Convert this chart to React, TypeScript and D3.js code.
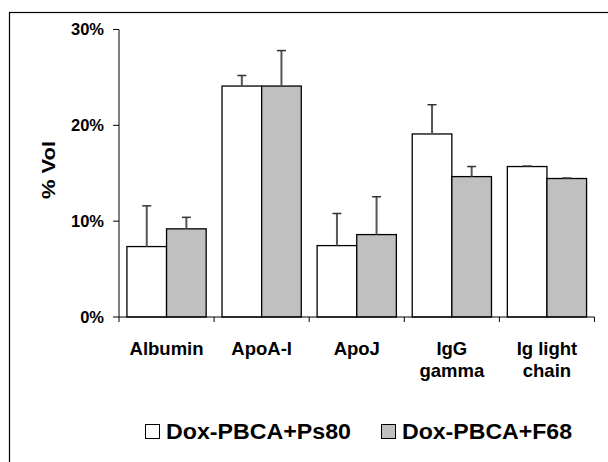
import React from "react";
import * as d3 from "d3";

const categories = ["Albumin", "ApoA-I", "ApoJ", "IgG gamma", "Ig light chain"];
const categoryLines = [["Albumin"], ["ApoA-I"], ["ApoJ"], ["IgG", "gamma"], ["Ig light", "chain"]];
const seriesNames = ["Dox-PBCA+Ps80", "Dox-PBCA+F68"];
const ps80Values = [7.35, 24.1, 7.45, 19.1, 15.7];
const ps80Errors = [4.25, 1.1, 3.35, 3.05, 0.05];
const f68Values = [9.2, 24.1, 8.6, 14.65, 14.45];
const f68Errors = [1.2, 3.7, 3.95, 1.05, 0.05];
const yTicks = [0, 10, 20, 30];

const W = 608;
const H = 462;
const FONT = "Arial, 'Liberation Sans', Helvetica, sans-serif";

export default function App() {
  const x0 = d3.scaleBand<string>().domain(categories).range([119, 594.5]).paddingInner(0).paddingOuter(0);
  const x1 = d3.scaleBand<number>().domain([0, 1]).range([0, x0.bandwidth()]).paddingOuter(0.2);
  const y = d3.scaleLinear().domain([0, 30]).range([317, 29.5]);
  const series = [
    { vals: ps80Values, errs: ps80Errors, fill: "#ffffff" },
    { vals: f68Values, errs: f68Errors, fill: "#c0c0c0" },
  ];
  const bw = x1.bandwidth();
  const legendX = [145, 381];
  const legendW = [185, 170];
  return (
    <svg width={W} height={H} style={{ position: "absolute", left: 0, top: 0 }} fontFamily={FONT} fontWeight="bold">
      <rect x={0} y={0} width={W} height={H} fill="#fff" />
      <rect x={9.5} y={12.5} width={W + 10} height={H + 10} fill="none" stroke="#000" strokeWidth={1.2} />
      {series.map((s, si) =>
        categories.map((c, i) => {
          const bx = (x0(c) as number) + (x1(si) as number);
          const top = y(s.vals[i]);
          const et = y(s.vals[i] + s.errs[i]);
          const cx = bx + bw / 2;
          return (
            <g key={`${si}-${i}`}>
              <rect x={bx} y={top} width={bw} height={y(0) - top} fill={s.fill} stroke="#000" strokeWidth={1.3} />
              <line x1={cx} x2={cx} y1={top} y2={et} stroke="#555" strokeWidth={2} />
              <line x1={cx - 4.5} x2={cx + 4.5} y1={et} y2={et} stroke="#333" strokeWidth={1.5} />
            </g>
          );
        })
      )}
      <line x1={119} x2={119} y1={y(30)} y2={y(0)} stroke="#000" strokeWidth={1} />
      {yTicks.map((t) => (
        <g key={t}>
          <line x1={113} x2={119} y1={y(t)} y2={y(t)} stroke="#000" strokeWidth={1} />
          <text x={104} y={y(t)} dy="0.36em" textAnchor="end" fontSize={16.5}>{t}%</text>
        </g>
      ))}
      <line x1={119} x2={594.5} y1={317} y2={317} stroke="#000" strokeWidth={1} />
      {[...categories.map((c) => x0(c) as number), 594.5].map((xv, i) => (
        <line key={i} x1={xv} x2={xv} y1={317} y2={322} stroke="#000" strokeWidth={1} />
      ))}
      {categories.map((c, i) => (
        <text key={c} x={(x0(c) as number) + x0.bandwidth() / 2} y={355} textAnchor="middle" fontSize={18.5}>
          {categoryLines[i].map((ln, k) => (
            <tspan key={k} x={(x0(c) as number) + x0.bandwidth() / 2} dy={k === 0 ? 0 : 22}>{ln}</tspan>
          ))}
        </text>
      ))}
      <text transform="translate(55,170) rotate(-90)" textAnchor="middle" fontSize={19} textLength={58} lengthAdjust="spacingAndGlyphs">% Vol</text>
      {seriesNames.map((n, i) => {
        const lx = legendX[i];
        return (
          <g key={n}>
            <rect x={lx + 0.5} y={424.5} width={14} height={14} fill={series[i].fill} stroke="#000" strokeWidth={1} />
            <text x={lx + 21} y={438.5} fontSize={21.5} textLength={legendW[i]} lengthAdjust="spacingAndGlyphs">{n}</text>
          </g>
        );
      })}
    </svg>
  );
}
